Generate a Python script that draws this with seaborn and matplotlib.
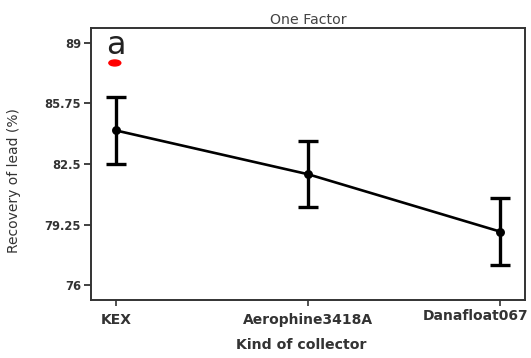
import matplotlib
matplotlib.use("Agg")
import matplotlib.pyplot as plt
import matplotlib.transforms as mtransforms
import seaborn as sns
import pandas as pd
from matplotlib.patches import Ellipse

categories = ["KEX", "Aerophine3418A", "Danafloat067"]
means = [84.3, 81.95, 78.87]
errors = [1.78, 1.77, 1.8]
yticks = [76, 79.25, 82.5, 85.75, 89]
ytick_labels = ["76", "79.25", "82.5", "85.75", "89"]

sns.set_theme(style="white")
plt.rcParams['font.family'] = ['DejaVu Sans']

df = pd.DataFrame({"collector": categories, "recovery": means})

fig = plt.figure(figsize=(5.31, 3.58), dpi=100)
ax = fig.add_axes([0.171, 0.162, 0.818, 0.76])

sns.pointplot(data=df, x="collector", y="recovery", color="black",
              errorbar=None, markers="o", markersize=5, linewidth=1.9, ax=ax)
ax.errorbar(range(len(categories)), means, yerr=errors, fmt="none",
            ecolor="black", elinewidth=2.4, capsize=7, capthick=2.4)

ax.set_ylim(75.2, 89.8)
ax.set_xlim(-0.13, 2.13)
ax.set_yticks(yticks)
ax.set_yticklabels(ytick_labels)
ax.set_xticks(range(len(categories)))
ax.set_xticklabels(categories)
ax.tick_params(axis="y", direction="out", length=5, width=1.3, left=True,
               labelsize=8.3, colors="#333333", pad=2)
ax.tick_params(axis="x", direction="out", length=4, width=1.2, bottom=True,
               labelsize=10, colors="#333333", pad=5)
for lab in ax.get_xticklabels() + ax.get_yticklabels():
    lab.set_fontweight("bold")
for s in ax.spines.values():
    s.set_color("#333333")
    s.set_linewidth(1.4)

# last category label sits shifted left/up in the reference so it fits
last = ax.get_xticklabels()[-1]
last.set_ha("right")
last.set_transform(last.get_transform() +
                   mtransforms.ScaledTranslation(0.28, 0.04, fig.dpi_scale_trans))

ax.set_xlabel("Kind of collector", fontsize=10.2, fontweight="bold", color="#333333")
ax.xaxis.set_label_coords(0.485, -0.14)
ax.set_ylabel("Recovery of lead (%)", fontsize=10, color="#333333")
ax.yaxis.set_label_coords(-0.16, 0.44)
ax.set_title("One Factor", fontsize=10.2, color="#444444", pad=3)

ax.text(0, 88.84, "a", fontsize=23, ha="center", va="center", color="#222222")
ax.add_patch(Ellipse((-0.005, 87.92), 0.062, 0.32, color="red", zorder=5))

fig.savefig("out.png", dpi=100)
